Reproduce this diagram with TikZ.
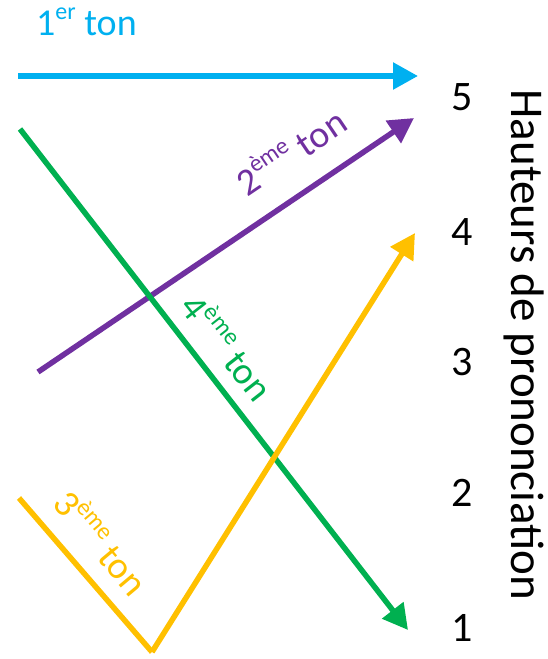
\documentclass[tikz,border=0pt]{standalone}
\usepackage{fontspec}
\setmainfont{Carlito}
\usetikzlibrary{arrows.meta}
\definecolor{tblue}{HTML}{00B0F0}
\definecolor{tpurple}{HTML}{7030A0}
\definecolor{tgreen}{HTML}{00B050}
\definecolor{tyellow}{HTML}{FFC000}
\tikzset{
  tone/.style={line width=5.5pt, -{Triangle[length=25pt,width=26pt]}},
  toneline/.style={line width=5.5pt, line join=miter},
  lbl/.style={inner sep=0pt, font=\fontsize{38}{44}\selectfont},
  lvl/.style={inner sep=0pt, font=\fontsize{42}{48}\selectfont},
}
\newcommand{\supx}[1]{\raisebox{0.42em}{\fontsize{24}{26}\selectfont #1}}
\begin{document}
\begin{tikzpicture}[x=1pt,y=-1pt]
\useasboundingbox (0,0) rectangle (547,659);
% coordinates
\coordinate (b1) at (18,76);
\coordinate (b2) at (418,76);
\coordinate (p1) at (38,372);
\coordinate (p2) at (414,118);
\coordinate (g1) at (20,129);
\coordinate (g2) at (408,630);
\coordinate (y1) at (19,498);
\coordinate (y2) at (152,652);
\coordinate (y3) at (415,233);
% lines
\draw[tone, tblue] (b1) -- (b2);
\draw[tone, tpurple] (p1) -- (p2);
\draw[tone, tgreen] (g1) -- (g2);
\draw[toneline, tyellow] (y1) -- (y2);
\draw[tone, tyellow] (y2) -- (y3);
% labels
\node[lbl, tblue, anchor=base west] (t1) at (36,35) {1\supx{er} ton};
\node[lbl, tpurple, rotate=34] (t2) at (290,150) {2\supx{ème} ton};
\node[lbl, tgreen, rotate=-52] (t4) at (229,346) {4\supx{ème} ton};
\node[lbl, tyellow, rotate=-50] (t3) at (103,541) {3\supx{ème} ton};
% levels
\node[lvl] (n5) at (462,97) {5};
\node[lvl] (n4) at (462,232) {4};
\node[lvl] (n3) at (462,362) {3};
\node[lvl] (n2) at (462,493) {2};
\node[lvl] (n1) at (462,628) {1};
\node[inner sep=0pt, rotate=-90, font=\fontsize{47}{52}\selectfont] (ax) at (524,345) {Hauteurs de prononciation};
\end{tikzpicture}
\end{document}
